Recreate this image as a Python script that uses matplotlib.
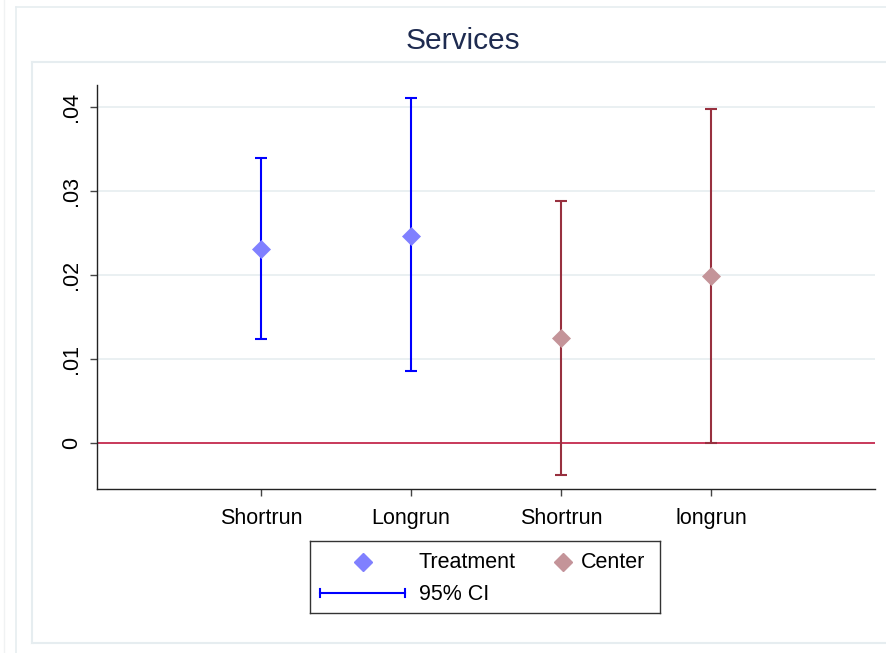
import matplotlib
matplotlib.use("Agg")
import matplotlib.pyplot as plt
from matplotlib.lines import Line2D

plt.rcParams['font.family'] = ['Liberation Sans', 'DejaVu Sans']

# Estimates and 95% confidence bounds
categories = ["Shortrun", "Longrun", "Shortrun", "longrun"]
treat_pos = [1, 2]
treat_est = [0.0231, 0.0246]
treat_lo = [0.0123, 0.0085]
treat_hi = [0.0339, 0.0410]
center_pos = [3, 4]
center_est = [0.0125, 0.0199]
center_lo = [-0.0038, 0.0000]
center_hi = [0.0288, 0.0398]
yticks = [0, 0.01, 0.02, 0.03, 0.04]
ytick_labels = ["0", ".01", ".02", ".03", ".04"]

W, H = 887, 653
fig = plt.figure(figsize=(W / 100, H / 100), dpi=100)
fig.patch.set_facecolor("white")


def fx(px):
    return px / W


def fy(py):
    return 1 - py / H


# Graph region frames
frame_col = "#e6edf0"
fig.add_artist(Line2D([fx(4), fx(4)], [0, 1], color="#f0f2f3", lw=1.0))
fig.add_artist(Line2D([fx(16), fx(16)], [0, fy(7)], color=frame_col, lw=1.2))
fig.add_artist(Line2D([fx(16), 1], [fy(7), fy(7)], color=frame_col, lw=1.2))
fig.add_artist(Line2D([fx(32), fx(32)], [fy(643), fy(62)], color=frame_col, lw=1.5))
fig.add_artist(Line2D([fx(32), 1], [fy(62), fy(62)], color=frame_col, lw=1.5))
fig.add_artist(Line2D([fx(32), 1], [fy(643), fy(643)], color=frame_col, lw=1.5))

ax = fig.add_axes([fx(97), fy(489), fx(875) - fx(97), fy(85) - fy(489)])
ax.set_facecolor("none")

ax.set_xlim(-0.093, 5.093)
ax.set_ylim(-0.0055, 0.0426)

for t in yticks[1:]:
    ax.axhline(t, color="#eaf0f2", lw=1.4, zorder=0)
ax.axhline(0, color="#c8385a", lw=1.4, zorder=1)

ci_blue = "#0000ff"
ci_red = "#98303f"
ax.errorbar(treat_pos, treat_est,
            yerr=[[e - l for e, l in zip(treat_est, treat_lo)],
                  [h - e for e, h in zip(treat_est, treat_hi)]],
            fmt="none", ecolor=ci_blue, elinewidth=1.5, capsize=4.5,
            capthick=1.5, zorder=2)
ax.errorbar(center_pos, center_est,
            yerr=[[e - l for e, l in zip(center_est, center_lo)],
                  [h - e for e, h in zip(center_est, center_hi)]],
            fmt="none", ecolor=ci_red, elinewidth=1.5, capsize=4.5,
            capthick=1.5, zorder=2)
ax.plot(treat_pos, treat_est, linestyle="none", marker="D", ms=9.2,
        mfc="#8080ff", mec="#8080ff", mew=0.5, zorder=3)
ax.plot(center_pos, center_est, linestyle="none", marker="D", ms=9.2,
        mfc="#c49499", mec="#c49499", mew=0.5, zorder=3)

for side in ("top", "right"):
    ax.spines[side].set_visible(False)
for side in ("left", "bottom"):
    ax.spines[side].set_linewidth(1.0)
    ax.spines[side].set_color("#222222")

ax.set_yticks(yticks)
ax.set_yticklabels(ytick_labels, rotation=90, va="center", fontsize=15.5)
ax.set_xticks(treat_pos + center_pos)
ax.set_xticklabels(categories, fontsize=15.5)
ax.tick_params(axis="both", direction="out", length=5, width=1.0,
               color="#444444", pad=6)
ax.tick_params(axis="x", pad=9)

fig.text(fx(463), fy(41), "Services", ha="center", va="center",
         fontsize=21.5, color="#1e2b50")

# Legend
lg = fig.add_axes([fx(310), fy(613), fx(660) - fx(310), fy(541) - fy(613)])
lg.set_xlim(310, 660)
lg.set_ylim(613, 541)
lg.set_xticks([])
lg.set_yticks([])
for s in lg.spines.values():
    s.set_linewidth(1.0)
    s.set_color("#333333")
lg.plot([363], [562], marker="D", ms=9.2, color="#8080ff", linestyle="none")
lg.text(419, 563, "Treatment", va="center", ha="left", fontsize=15.5)
lg.plot([563], [562], marker="D", ms=9.2, color="#c49499", linestyle="none")
lg.text(581, 563, "Center", va="center", ha="left", fontsize=15.5)
lg.plot([320, 405], [593, 593], color=ci_blue, lw=1.5)
lg.plot([320, 320], [589, 597], color=ci_blue, lw=1.5)
lg.plot([405, 405], [589, 597], color=ci_blue, lw=1.5)
lg.text(419, 594, "95% CI", va="center", ha="left", fontsize=15.5)

fig.savefig("out.png", dpi=100)
